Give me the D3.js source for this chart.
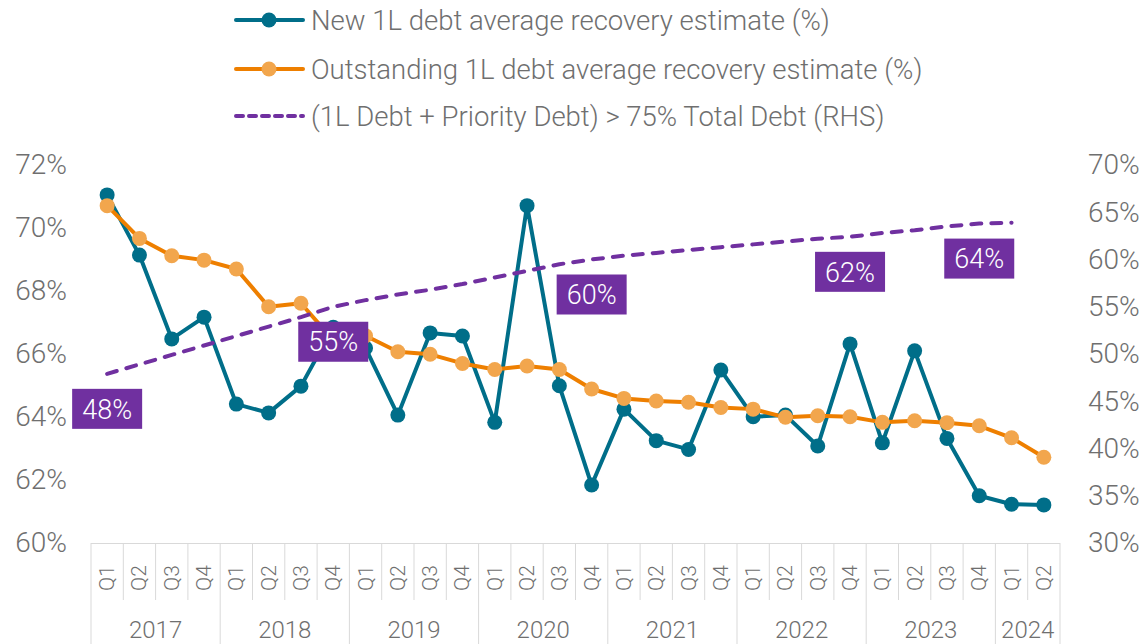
<!DOCTYPE html>
<html>
<head>
<meta charset="utf-8">
<script src="https://cdn.jsdelivr.net/npm/d3@7"></script>
<style>
    body { margin: 0; background: #fff; }
    #chart-area { width: 1140px; height: 644px; }
    text { font-family: Roboto, "Open Sans", sans-serif; font-weight: 300; fill: #6f6f6f; }
</style>
</head>
<body>
<div id="chart-area"></div>
<script>

// quarters 2017 Q1 .. 2024 Q2
var quarters = ["Q1","Q2","Q3","Q4","Q1","Q2","Q3","Q4","Q1","Q2","Q3","Q4","Q1","Q2","Q3","Q4",
                "Q1","Q2","Q3","Q4","Q1","Q2","Q3","Q4","Q1","Q2","Q3","Q4","Q1","Q2"];
var years = ["2017","2018","2019","2020","2021","2022","2023","2024"];
var quartersPerYear = [4, 4, 4, 4, 4, 4, 4, 2];

var newRecovery = [71.05, 69.14, 66.48, 67.17, 64.41, 64.13, 64.98, 66.85,
                   66.19, 64.06, 66.67, 66.57, 63.83, 70.71, 64.99, 61.84,
                   64.25, 63.25, 62.97, 65.49, 64.01, 64.06, 63.08, 66.32,
                   63.18, 66.10, 63.32, 61.50, 61.23, 61.21];

var outstandingRecovery = [70.71, 69.67, 69.12, 68.98, 68.70, 67.50, 67.61, 66.44,
                           66.58, 66.07, 65.99, 65.70, 65.51, 65.62, 65.51, 64.89,
                           64.59, 64.51, 64.47, 64.30, 64.25, 63.99, 64.04, 64.01,
                           63.83, 63.88, 63.82, 63.72, 63.34, 62.72];

// RHS series, no value for 2024 Q2
var priorityDebt = [47.9, 48.9, 49.9, 50.9, 51.9, 52.9, 53.9, 55.0,
                    55.7, 56.3, 56.8, 57.4, 58.1, 58.8, 59.5, 60.0,
                    60.4, 60.7, 61.0, 61.3, 61.6, 61.9, 62.2, 62.4,
                    62.8, 63.1, 63.5, 63.8, 63.9, null];
var priorityLabelIdx = [0, 7, 15, 23, 27];

var leftTicks = [60, 62, 64, 66, 68, 70, 72];
var rightTicks = [30, 35, 40, 45, 50, 55, 60, 65, 70];

var legendItems = [
    { name: "New 1L debt average recovery estimate (%)", key: "new" },
    { name: "Outstanding 1L debt average recovery estimate (%)", key: "out" },
    { name: "(1L Debt + Priority Debt) > 75% Total Debt (RHS)", key: "prio" }
];

var colors = { new: "#006e89", out: "#ee7f00", outDot: "#f2a64d", prio: "#7030a0" };


class DualAxisChart {

    constructor(_parentElement) {
        this.parentElement = _parentElement;
        this.initVis();
    }

    initVis() {
        var vis = this;

        vis.margin = { top: 165, right: 80, bottom: 101, left: 91 };
        vis.height = 644 - vis.margin.top - vis.margin.bottom;

        vis.root = d3.select("#" + vis.parentElement).append("svg")
            .attr("width", 1140)
            .attr("height", 644);

        vis.svg = vis.root.append("g")
            .attr("transform", "translate(" + vis.margin.left + "," + vis.margin.top + ")");

        // Scales
        vis.x = d3.scaleBand()
            .domain(d3.range(quarters.length))
            .range([0, 969]);

        vis.y = d3.scaleLinear()
            .domain([60, 72])
            .range([vis.height, 0]);

        vis.y2 = d3.scaleLinear()
            .domain([30, 70])
            .range([vis.height, 0]);

        vis.cx = i => vis.x(i) + vis.x.bandwidth() / 2;

        vis.drawAxes();
        vis.drawLegend();
        vis.updateVis();
    }

    drawAxes() {
        var vis = this;

        var yAxis = d3.axisLeft(vis.y)
            .tickValues(leftTicks)
            .tickSize(0)
            .tickPadding(24)
            .tickFormat(d => d + "%");

        var y2Axis = d3.axisRight(vis.y2)
            .tickValues(rightTicks)
            .tickSize(0)
            .tickPadding(28)
            .tickFormat(d => d + "%");

        vis.svg.append("g").attr("class", "y-axis")
            .call(yAxis);

        vis.svg.append("g").attr("class", "y2-axis")
            .attr("transform", "translate(" + vis.x.range()[1] + ",0)")
            .call(y2Axis);

        vis.svg.selectAll(".y-axis, .y2-axis").select(".domain").remove();
        vis.svg.selectAll(".y-axis text, .y2-axis text")
            .style("font-size", "28px")
            .attr("fill", "#6f6f6f");

        // Category axis: quarters and year groups
        var axisG = vis.svg.append("g")
            .attr("class", "x-axis")
            .attr("transform", "translate(0," + vis.height + ")");

        var gridColor = "#d9d9d9";

        axisG.append("line")
            .attr("x1", 0).attr("x2", vis.x.range()[1])
            .attr("y1", 0.5).attr("y2", 0.5)
            .attr("stroke", gridColor);

        // year boundaries
        var starts = [0];
        quartersPerYear.forEach((n, i) => starts.push(starts[i] + n));

        axisG.selectAll(".q-sep")
            .data(d3.range(1, quarters.length).filter(i => starts.indexOf(i) < 0))
            .enter().append("line")
            .attr("class", "q-sep")
            .attr("x1", i => vis.x(i)).attr("x2", i => vis.x(i))
            .attr("y1", 0).attr("y2", 57)
            .attr("stroke", gridColor);

        axisG.selectAll(".y-sep")
            .data(starts.map(i => i < quarters.length ? vis.x(i) : vis.x.range()[1]))
            .enter().append("line")
            .attr("class", "y-sep")
            .attr("x1", d => d).attr("x2", d => d)
            .attr("y1", 0).attr("y2", 110)
            .attr("stroke", gridColor);

        axisG.selectAll(".q-label")
            .data(quarters)
            .enter().append("text")
            .attr("class", "q-label")
            .attr("transform", (d, i) => "translate(" + (vis.cx(i) + 7) + ",35) rotate(-90)")
            .attr("text-anchor", "middle")
            .style("font-size", "21px")
            .text(d => d);

        axisG.selectAll(".year-label")
            .data(years)
            .enter().append("text")
            .attr("class", "year-label")
            .attr("x", (d, i) => {
                var a = vis.x(starts[i]);
                var b = starts[i + 1] < quarters.length ? vis.x(starts[i + 1]) : vis.x.range()[1];
                return (a + b) / 2;
            })
            .attr("y", 95)
            .attr("text-anchor", "middle")
            .style("font-size", "24px")
            .text(d => d);
    }

    drawLegend() {
        var vis = this;

        var legend = vis.root.append("g")
            .attr("class", "legend")
            .attr("transform", "translate(234,20)");

        var rows = legend.selectAll(".legend-row")
            .data(legendItems)
            .enter().append("g")
            .attr("class", "legend-row")
            .attr("transform", (d, i) => "translate(0," + [0, 49, 96][i] + ")");

        rows.append("line")
            .attr("x1", 2).attr("x2", 69)
            .attr("stroke", d => colors[d.key])
            .attr("stroke-width", 4)
            .attr("stroke-linecap", "round")
            .attr("stroke-dasharray", d => d.key === "prio" ? "7,6" : null);

        rows.filter(d => d.key !== "prio").append("circle")
            .attr("cx", 35)
            .attr("r", 7.5)
            .attr("fill", d => d.key === "out" ? colors.outDot : colors.new);

        rows.append("text")
            .attr("x", 77)
            .attr("dy", "0.35em")
            .style("font-size", "27.5px")
            .text(d => d.name);
    }

    updateVis() {
        var vis = this;

        var line = d3.line()
            .x((d, i) => vis.cx(i))
            .y(d => vis.y(d));

        // New 1L
        vis.svg.append("path")
            .datum(newRecovery)
            .attr("fill", "none")
            .attr("stroke", colors.new)
            .attr("stroke-width", 4)
            .attr("stroke-linejoin", "round")
            .attr("d", line);

        vis.svg.selectAll(".dot-new")
            .data(newRecovery)
            .enter().append("circle")
            .attr("class", "dot-new")
            .attr("cx", (d, i) => vis.cx(i))
            .attr("cy", d => vis.y(d))
            .attr("r", 7.5)
            .attr("fill", colors.new);

        // Outstanding 1L
        vis.svg.append("path")
            .datum(outstandingRecovery)
            .attr("fill", "none")
            .attr("stroke", colors.out)
            .attr("stroke-width", 4)
            .attr("stroke-linejoin", "round")
            .attr("d", line);

        vis.svg.selectAll(".dot-out")
            .data(outstandingRecovery)
            .enter().append("circle")
            .attr("class", "dot-out")
            .attr("cx", (d, i) => vis.cx(i))
            .attr("cy", d => vis.y(d))
            .attr("r", 7.5)
            .attr("fill", colors.outDot);

        // RHS dashed line
        var line2 = d3.line()
            .defined(d => d !== null)
            .x((d, i) => vis.cx(i))
            .y(d => vis.y2(d));

        vis.svg.append("path")
            .datum(priorityDebt)
            .attr("fill", "none")
            .attr("stroke", colors.prio)
            .attr("stroke-width", 4)
            .attr("stroke-linecap", "round")
            .attr("stroke-dasharray", "10,10")
            .attr("d", line2);

        // data labels
        var labels = vis.svg.selectAll(".prio-label")
            .data(priorityLabelIdx)
            .enter().append("g")
            .attr("class", "prio-label")
            .attr("transform", i => "translate(" + vis.cx(i) + "," + (vis.y2(priorityDebt[i]) + 35) + ")");

        labels.append("rect")
            .attr("x", -35).attr("y", -20)
            .attr("width", 70).attr("height", 40)
            .attr("fill", colors.prio);

        labels.append("text")
            .attr("text-anchor", "middle")
            .attr("dy", "0.36em")
            .style("font-size", "27px")
            .style("fill", "#ffffff")
            .text(i => Math.round(priorityDebt[i]) + "%");
    }
}

var chart = new DualAxisChart("chart-area");

</script>
</body>
</html>
